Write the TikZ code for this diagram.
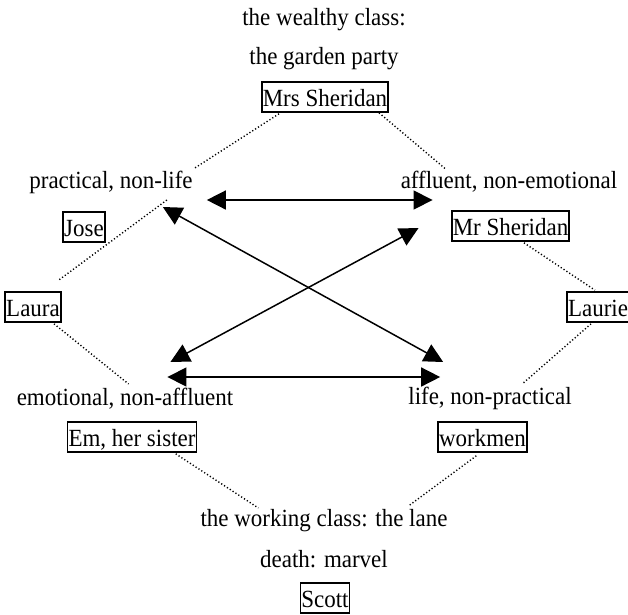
\documentclass[tikz,border=0pt]{standalone}
\usepackage{fontspec}
\setmainfont{Liberation Serif}[FakeStretch=0.93]
\usetikzlibrary{arrows.meta,calc}

\begin{document}
\begin{tikzpicture}[x=1pt,y=1pt,yscale=-1,xscale=1,
  font=\fontsize{24.7}{30}\selectfont,
  lbl/.style={inner sep=0pt, anchor=base},
  box/.style={draw, line width=1.6pt, inner xsep=1pt, inner ysep=0pt, text height=24pt, text depth=6pt, anchor=base},
  dotline/.style={line width=1.4pt, dash pattern=on 1.2pt off 2.2pt},
  dbl/.style={line width=1.5pt, {Triangle[length=19pt,width=19pt]}-{Triangle[length=19pt,width=19pt]}}]
\useasboundingbox (0,0) rectangle (628,614);
% Text Node
\node[lbl] (wealthy) at (324,25) {the wealthy class:};
% Text Node
\node[lbl] (garden) at (324,64) {the garden party};
\node[box] (mrs) at (325,106) {Mrs Sheridan};
% Text Node
\node[lbl] (practical) at (111,188) {practical, non-life};
% Text Node
\node[lbl] (affluent) at (509,188) {affluent, non-emotional};
\node[box] (jose) at (84,236) {Jose};
\node[box] (mrsher) at (510.5,235) {Mr Sheridan};
\node[box] (laura) at (33,316) {Laura};
\node[box] (laurie) at (598,316) {Laurie};
% Text Node
\node[lbl] (emotional) at (125,405) {emotional, non-affluent};
% Text Node
\node[lbl] (life) at (490,404) {life, non-practical};
\node[box] (em) at (132,446) {Em, her sister};
\node[box] (workmen) at (482.5,446) {workmen};
% Text Node
\node[lbl] (working) at (324,526) {the working class: the lane};
% Text Node
\node[lbl] (death) at (324,567) {death: marvel};
\node[box] (scott) at (325,607) {Scott};

\draw[dotline] ($(mrs.south west)+(18,1)$) -- ($(practical.base east)+(2,-20)$);
\draw[dotline] ($(practical.base east)+(-26,12)$) -- ($(laura.north east)+(-3,-11)$);
\draw[dotline] ($(mrs.south east)+(-10,0)$) -- ($(affluent.base west)+(45,-19)$);
\draw[dotline] ($(mrsher.south west)+(73,1)$) -- ($(laurie.north)+(-3,-1)$);
\draw[dotline] ($(laura.south)+(21,1)$) -- ($(emotional.base west)+(112,-21)$);
\draw[dotline] ($(em.south west)+(109,1)$) -- ($(working.base west)+(58,-18)$);
\draw[dotline] ($(laurie.south)+(-7,1)$) -- ($(life.base west)+(114,-20)$);
\draw[dotline] ($(workmen.south west)+(39,3)$) -- ($(working.base west)+(208,-20)$);

\draw[dbl] ($(practical.base east)+(14,12)$) -- ($(affluent.base west)+(32,12)$);
\draw[dbl] ($(practical.base east)+(-30,19)$) -- ($(life.base west)+(35,-42)$);
\draw[dbl] ($(emotional.base east)+(-63,-43)$) -- ($(affluent.base west)+(18,40)$);
\draw[dbl] ($(emotional.base east)+(-66,-28)$) -- ($(life.base west)+(32,-27)$);
\end{tikzpicture}
\end{document}
